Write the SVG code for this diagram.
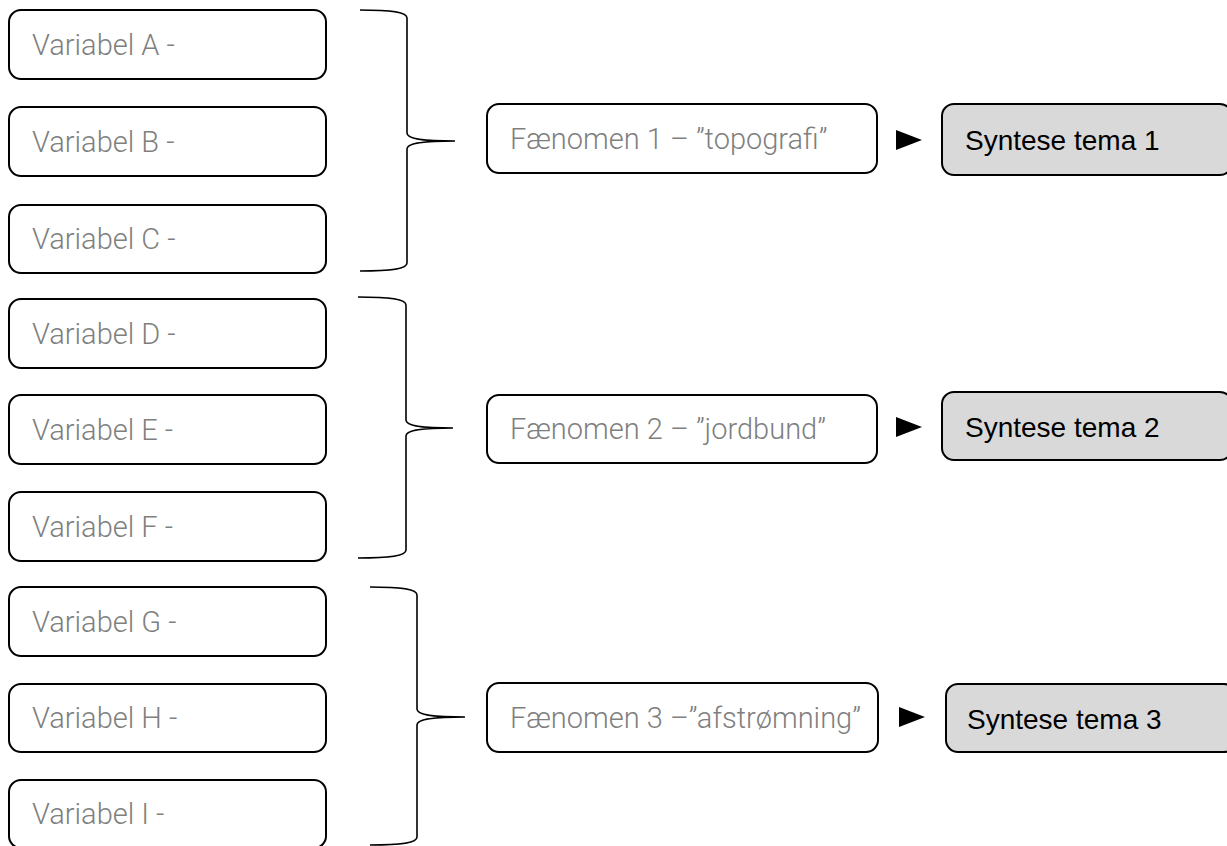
<svg xmlns="http://www.w3.org/2000/svg" width="1227" height="846" viewBox="0 0 1227 846">
  <style>
    .box { fill: #ffffff; stroke: #000000; stroke-width: 2; }
    .syn { fill: #d9d9d9; stroke: #000000; stroke-width: 2; }
    .lbl { font-family: Roboto, "Liberation Sans", Arial, sans-serif; font-weight: 300; font-size: 29px; fill: #7f7f7f; }
    .syn-lbl { font-family: "Liberation Sans", Arial, sans-serif; font-size: 28px; fill: #000000; }
    .brace { fill: none; stroke: #000000; stroke-width: 1.6; }
    .head { fill: #000000; }
  </style>
  <rect width="1227" height="846" fill="#ffffff"/>

  <!-- variables -->
  <g id="var-a"><rect class="box" x="9" y="10" width="317" height="69" rx="12"/><text class="lbl" x="32" y="55">Variabel A -</text></g>
  <g id="var-b"><rect class="box" x="9" y="107" width="317" height="69" rx="12"/><text class="lbl" x="32" y="152">Variabel B -</text></g>
  <g id="var-c"><rect class="box" x="9" y="205" width="317" height="68" rx="12"/><text class="lbl" x="32" y="249">Variabel C -</text></g>
  <g id="var-d"><rect class="box" x="9" y="299" width="317" height="69" rx="12"/><text class="lbl" x="32" y="344">Variabel D -</text></g>
  <g id="var-e"><rect class="box" x="9" y="395" width="317" height="69" rx="12"/><text class="lbl" x="32" y="440">Variabel E -</text></g>
  <g id="var-f"><rect class="box" x="9" y="492" width="317" height="69" rx="12"/><text class="lbl" x="32" y="537">Variabel F -</text></g>
  <g id="var-g"><rect class="box" x="9" y="587" width="317" height="69" rx="12"/><text class="lbl" x="32" y="632">Variabel G -</text></g>
  <g id="var-h"><rect class="box" x="9" y="684" width="317" height="68" rx="12"/><text class="lbl" x="32" y="728">Variabel H -</text></g>
  <g id="var-i"><rect class="box" x="9" y="780" width="317" height="68" rx="12"/><text class="lbl" x="32" y="824">Variabel I -</text></g>

  <!-- phenomena -->
  <g id="phen-1"><rect class="box" x="487" y="104" width="390" height="69" rx="12"/><text class="lbl" x="510" y="149">Fænomen 1 – ”topografi”</text></g>
  <g id="phen-2"><rect class="box" x="487" y="395" width="390" height="68" rx="12"/><text class="lbl" x="510" y="439">Fænomen 2 – ”jordbund”</text></g>
  <g id="phen-3"><rect class="box" x="487" y="683" width="391" height="69" rx="12"/><text class="lbl" x="510" y="728">Fænomen 3 –”afstrømning”</text></g>

  <!-- synthesis themes -->
  <g id="syn-1"><rect class="syn" x="942" y="104" width="290" height="71" rx="12"/><text class="syn-lbl" x="965" y="150">Syntese tema 1</text></g>
  <g id="syn-2"><rect class="syn" x="942" y="392" width="290" height="68" rx="12"/><text class="syn-lbl" x="965" y="437">Syntese tema 2</text></g>
  <g id="syn-3"><rect class="syn" x="946" y="684" width="290" height="68" rx="12"/><text class="syn-lbl" x="967" y="729">Syntese tema 3</text></g>

  <!-- braces and arrowheads -->
  <g id="connectors">
    <path class="brace" d="M360,10 C392,10 407,12 407,18 L407,133 C407,138 418,141 455,141 C418,141 407,144 407,149 L407,263 C407,269 392,271 360,271"/>
    <path class="brace" d="M358,297 C390,297 406,299 406,305 L406,420 C406,425 417,428 453,428 C417,428 406,431 406,436 L406,550 C406,556 390,558 358,558"/>
    <path class="brace" d="M370,587 C402,587 417,589 417,595 L417,709 C417,714 428,717 465,717 C428,717 417,720 417,725 L417,837 C417,843 402,845 370,845"/>
    <polygon class="head" points="896,130 922,140 896,150"/>
    <polygon class="head" points="896,417 922,427 896,437"/>
    <polygon class="head" points="899,707 925,717 899,727"/>
  </g>
</svg>
